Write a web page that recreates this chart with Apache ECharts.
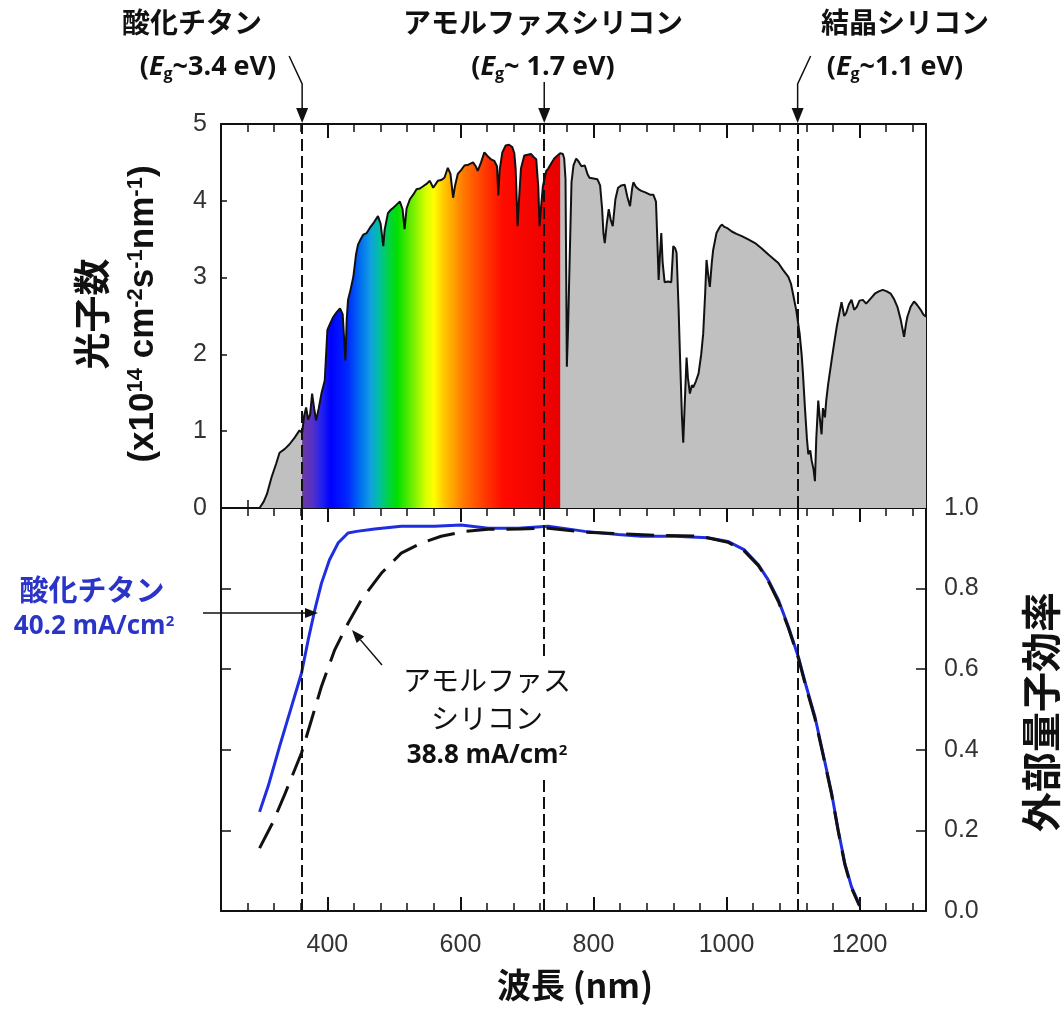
<!DOCTYPE html>
<html>
<head>
<meta charset="utf-8">
<script src="https://cdn.jsdelivr.net/npm/echarts@6/dist/echarts.min.js"></script>
<style>
  html, body { margin: 0; padding: 0; background: #fff; }
  #main { width: 1064px; height: 1027px; }
</style>
</head>
<body>
<div id="main"></div>
<script>
// 太陽光スペクトル: 波長 (nm) と 光子数 (x10^14 cm^-2 s^-1 nm^-1)
const specNm = [298, 304, 309, 316, 323, 328, 336, 343, 351, 358,
  362, 365, 368, 371, 374, 377, 380, 383, 387, 391,
  396, 400, 404, 409, 414, 419, 423, 427, 429, 431,
  435, 439, 443, 446, 450, 454, 459, 464, 470, 476,
  480, 484, 486, 491, 495, 499, 504, 509, 513, 516,
  519, 524, 529, 534, 539, 544, 549, 554, 559, 563,
  566, 571, 576, 581, 585, 589, 592, 596, 601, 606,
  612, 619, 623, 626, 631, 636, 641, 646, 651, 655,
  657, 659, 663, 668, 673, 678, 681, 683, 686, 688,
  691, 696, 701, 706, 710, 714, 716, 717, 719, 721,
  724, 729, 732, 736, 741, 746, 750, 754, 756, 758,
  760, 762, 764, 767, 770, 774, 777, 782, 787, 791,
  794, 800, 806, 810, 813, 815, 817, 820, 823, 826,
  829, 833, 837, 842, 847, 851, 855, 858, 860, 864,
  868, 872, 878, 885, 890, 894, 896, 898, 900, 902,
  904, 907, 912, 917, 920, 923, 925, 928, 930, 933,
  935, 937, 940, 942, 945, 948, 950, 954, 958, 962,
  965, 968, 970, 973, 975, 978, 980, 985, 990, 993,
  997, 1002, 1008, 1015, 1023, 1032, 1043, 1053, 1063, 1070,
  1078, 1085, 1093, 1097, 1100, 1105, 1110, 1113, 1115, 1118,
  1121, 1123, 1126, 1128, 1131, 1133, 1135, 1138, 1140, 1143,
  1145, 1148, 1150, 1153, 1158, 1162, 1166, 1170, 1173, 1177,
  1180, 1184, 1188, 1192, 1196, 1200, 1205, 1210, 1215, 1219,
  1223, 1229, 1235, 1241, 1247, 1252, 1257, 1262, 1267, 1270,
  1272, 1277, 1282, 1287, 1292, 1296, 1300]
const specVal = [0.00, 0.08, 0.18, 0.40, 0.58, 0.72, 0.77, 0.83, 0.92, 1.01,
  0.98, 1.20, 1.31, 1.15, 1.22, 1.49, 1.30, 1.14, 1.30, 1.49,
  1.66, 2.32, 2.40, 2.49, 2.55, 2.60, 2.52, 1.92, 2.45, 2.71,
  2.85, 3.01, 3.30, 3.43, 3.50, 3.56, 3.58, 3.65, 3.72, 3.80,
  3.70, 3.41, 3.62, 3.84, 3.88, 3.91, 3.95, 3.99, 3.89, 3.63,
  3.90, 4.02, 4.08, 4.15, 4.16, 4.19, 4.22, 4.26, 4.17, 4.22,
  4.26, 4.27, 4.30, 4.43, 4.35, 4.04, 4.20, 4.35, 4.40, 4.46,
  4.47, 4.50, 4.45, 4.39, 4.50, 4.63, 4.58, 4.54, 4.52, 4.45,
  4.07, 4.40, 4.63, 4.72, 4.73, 4.70, 4.62, 4.42, 3.67, 4.00,
  4.42, 4.59, 4.60, 4.61, 4.57, 4.54, 4.30, 4.19, 3.67, 3.90,
  4.19, 4.39, 4.42, 4.48, 4.55, 4.59, 4.62, 4.61, 4.55, 4.28,
  1.84, 2.40, 3.15, 4.24, 4.46, 4.55, 4.52, 4.45, 4.46, 4.35,
  4.30, 4.29, 4.28, 4.20, 3.90, 3.58, 3.45, 3.70, 3.89, 3.75,
  3.67, 4.02, 4.17, 4.20, 4.21, 4.05, 3.93, 4.15, 4.24, 4.18,
  4.15, 4.13, 4.11, 4.08, 4.08, 3.99, 3.50, 2.97, 3.30, 3.58,
  3.20, 2.94, 2.95, 2.94, 3.41, 3.38, 3.32, 2.60, 2.01, 1.20,
  0.85, 1.30, 1.96, 1.70, 1.49, 1.60, 1.57, 1.65, 1.75, 2.00,
  2.27, 2.80, 3.23, 3.00, 2.88, 3.20, 3.36, 3.58, 3.66, 3.69,
  3.66, 3.64, 3.60, 3.57, 3.54, 3.50, 3.45, 3.38, 3.30, 3.25,
  3.19, 3.10, 3.01, 2.92, 2.79, 2.57, 2.27, 2.00, 1.75, 1.30,
  0.90, 0.70, 0.75, 0.62, 0.50, 0.35, 0.90, 1.40, 1.20, 0.96,
  1.30, 1.18, 1.40, 1.62, 1.92, 2.15, 2.37, 2.55, 2.68, 2.50,
  2.54, 2.65, 2.71, 2.58, 2.62, 2.70, 2.71, 2.66, 2.71, 2.75,
  2.79, 2.82, 2.84, 2.82, 2.79, 2.72, 2.62, 2.45, 2.23, 2.40,
  2.49, 2.62, 2.69, 2.64, 2.58, 2.52, 2.49]

// 外部量子効率: 酸化チタン (青線)
const eqeTiNm = [298, 311, 328, 346, 361, 371, 381, 391, 403, 416, 431, 444, 471, 511, 561, 601, 642, 687, 732, 787,
  837, 872, 922, 972, 1002, 1027, 1048, 1063, 1078, 1093, 1108, 1120, 1133, 1145, 1158, 1168, 1178, 1188, 1200]
const eqeTiVal = [0.246, 0.31, 0.408, 0.507, 0.59, 0.672, 0.747, 0.813, 0.871, 0.913, 0.938, 0.942, 0.948, 0.955, 0.955, 0.958, 0.950, 0.950, 0.955, 0.942,
  0.934, 0.930, 0.930, 0.926, 0.917, 0.896, 0.859, 0.821, 0.772, 0.706, 0.631, 0.557, 0.482, 0.392, 0.293, 0.201, 0.118, 0.060, 0.015]
// 外部量子効率: アモルファスシリコン (破線)
const eqeSiNm = [298, 318, 336, 361, 376, 391, 411, 431, 451, 481, 511, 541, 571, 607, 642, 690, 732, 787, 837, 900,
  960, 1002, 1027, 1048, 1063, 1078, 1093, 1108, 1120, 1133, 1145, 1158, 1168, 1178, 1188, 1200]
const eqeSiVal = [0.156, 0.22, 0.29, 0.392, 0.474, 0.557, 0.648, 0.714, 0.772, 0.838, 0.888, 0.913, 0.930, 0.942, 0.947, 0.948, 0.950, 0.940, 0.936, 0.932,
  0.930, 0.915, 0.893, 0.857, 0.818, 0.768, 0.703, 0.628, 0.553, 0.478, 0.389, 0.290, 0.198, 0.115, 0.057, 0.013]

// バンドギャップ波長 (破線)
const bandgapNm = [362, 726, 1107]
const xMajorTicks = [400, 600, 800, 1000, 1200]
// 可視光の色 (波長ごと)
const rainbowNm = [362, 378, 392, 405, 430, 450, 465, 478, 490, 505, 530, 548, 560, 575, 590, 605, 625, 645, 665, 750]
const rainbowColor = ['#6a3aa0', '#5530c8', '#2020f0', '#0000ff', '#0028ff', '#0070f0', '#10a0e0', '#00c0a0', '#00d050', '#00e000',
  '#7af000', '#d8ff00', '#ffff00', '#ffc800', '#ffa000', '#ff7800', '#ff5000', '#ff2a00', '#ff0a00', '#e80000']

const numFont = '"Liberation Sans", Arial, sans-serif'
const latinFont = '"Open Sans", "Noto Sans", sans-serif'
const jpFont = '"Noto Sans CJK JP", sans-serif'
const ink = '#111'

const chart = echarts.init(document.getElementById('main'))

const specData = specNm.map((x, i) => [x, specVal[i]])
const colorData = specData.filter(d => d[0] >= 362 && d[0] <= 750)
const lo = colorData[0][0]
const hi = colorData[colorData.length - 1][0]
const rainbow = new echarts.graphic.LinearGradient(0, 0, 1, 0,
  rainbowNm.map((nm, i) => ({ offset: (nm - lo) / (hi - lo), color: rainbowColor[i] })))

// x軸 (目盛りの短いもの / 長いもの)
function xAxisOf(grid, pos, major, labels) {
  return {
    type: 'value', gridIndex: grid, position: pos, min: 240, max: 1300, interval: 40,
    axisLine: { show: !major, onZero: false, lineStyle: { color: ink, width: 2 } },
    axisTick: major
      ? { inside: true, length: 14, customValues: xMajorTicks, lineStyle: { color: ink, width: 2 } }
      : { inside: true, length: 8, lineStyle: { color: ink, width: 1.5 } },
    axisLabel: labels
      ? { show: true, color: '#333', fontSize: 25, fontFamily: numFont, margin: 22,
          formatter: v => (v % 200 === 0 ? String(v) : '') }
      : { show: false },
    splitLine: { show: false }
  }
}

const vline = {
  silent: true, symbol: ['none', 'none'], label: { show: false },
  lineStyle: { color: ink, type: [12, 5], width: 2 },
  emphasis: { disabled: true },
  data: bandgapNm.map(v => ({ xAxis: v }))
}

const option = {
  backgroundColor: '#fff',
  animation: false,
  grid: [
    { left: 221, top: 124, width: 705, height: 384 },
    { left: 221, top: 508, width: 705, height: 403 }
  ],
  xAxis: [
    xAxisOf(0, 'top', false, false), xAxisOf(0, 'top', true, false),
    xAxisOf(0, 'bottom', false, false), xAxisOf(0, 'bottom', true, false),
    xAxisOf(1, 'top', false, false), xAxisOf(1, 'top', true, false),
    xAxisOf(1, 'bottom', false, true), xAxisOf(1, 'bottom', true, false)
  ],
  yAxis: [
    { type: 'value', gridIndex: 0, position: 'left', min: 0, max: 5, interval: 1,
      axisLine: { show: true, lineStyle: { color: ink, width: 2 } },
      axisTick: { inside: true, length: 6, lineStyle: { color: ink, width: 1.5 } },
      axisLabel: { color: '#333', fontSize: 25, fontFamily: numFont, margin: 14 },
      splitLine: { show: false } },
    { type: 'value', gridIndex: 0, position: 'right', min: 0, max: 5, interval: 1,
      axisLine: { show: true, lineStyle: { color: ink, width: 2 } },
      axisTick: { show: false }, axisLabel: { show: false }, splitLine: { show: false } },
    { type: 'value', gridIndex: 1, position: 'left', min: 0, max: 1, interval: 0.2,
      axisLine: { show: true, lineStyle: { color: ink, width: 2 } },
      axisTick: { inside: true, length: 10, lineStyle: { color: ink, width: 1.5 } },
      axisLabel: { show: false }, splitLine: { show: false } },
    { type: 'value', gridIndex: 1, position: 'right', min: 0, max: 1, interval: 0.2,
      axisLine: { show: true, lineStyle: { color: ink, width: 2 } },
      axisTick: { inside: true, length: 10, lineStyle: { color: ink, width: 1.5 } },
      axisLabel: { color: '#333', fontSize: 25, fontFamily: numFont, margin: 18, formatter: v => v.toFixed(1) },
      splitLine: { show: false } }
  ],
  series: [
    { type: 'line', xAxisIndex: 2, yAxisIndex: 0, data: specData, symbol: 'none', silent: true, z: 1,
      lineStyle: { opacity: 0 }, areaStyle: { color: '#c0c0c0', opacity: 1 } },
    { type: 'line', xAxisIndex: 2, yAxisIndex: 0, data: colorData, symbol: 'none', silent: true, z: 2,
      lineStyle: { opacity: 0 }, areaStyle: { color: rainbow, opacity: 1 } },
    { type: 'line', xAxisIndex: 2, yAxisIndex: 0, data: specData, symbol: 'none', silent: true, z: 3,
      lineStyle: { color: ink, width: 2 }, markLine: vline },
    { type: 'line', xAxisIndex: 6, yAxisIndex: 3, data: eqeTiNm.map((x, i) => [x, eqeTiVal[i]]),
      symbol: 'none', silent: true, z: 3, lineStyle: { color: '#1e2ee0', width: 3 } },
    { type: 'line', xAxisIndex: 6, yAxisIndex: 3, data: eqeSiNm.map((x, i) => [x, eqeSiVal[i]]),
      symbol: 'none', silent: true, z: 4, lineStyle: { color: ink, width: 3, type: [28, 12] }, markLine: vline }
  ]
}

chart.setOption(option)

// 矢印 (線 + 三角形)
function arrow(points, color, width, headLen, headW) {
  const n = points.length
  const [x1, y1] = points[n - 2]
  const [x2, y2] = points[n - 1]
  const a = Math.atan2(y2 - y1, x2 - x1)
  const bx = x2 - headLen * Math.cos(a)
  const by = y2 - headLen * Math.sin(a)
  const p1 = [bx + headW / 2 * Math.sin(a), by - headW / 2 * Math.cos(a)]
  const p2 = [bx - headW / 2 * Math.sin(a), by + headW / 2 * Math.cos(a)]
  return [
    { type: 'polyline', z: 100, shape: { points: points.slice(0, n - 1).concat([[bx, by]]) },
      style: { stroke: color, lineWidth: width, fill: 'none' } },
    { type: 'polygon', z: 100, shape: { points: [[x2, y2], p1, p2] }, style: { fill: color } }
  ]
}

function label(x, y, text, opts) {
  return { type: 'text', x: x, y: y, z: 100, rotation: opts.rotation || 0,
    style: Object.assign({ text: text, align: 'center', verticalAlign: 'middle', fill: ink }, opts.style) }
}

const egRich = {
  i: { fontStyle: 'italic', fontWeight: 'bold', fontSize: 27, fontFamily: latinFont },
  s: { fontSize: 16, fontWeight: 'bold', fontFamily: latinFont, verticalAlign: 'bottom', padding: [14, 0, 0, 0] }
}
const egStyle = { fontSize: 27, fontWeight: 'bold', fontFamily: latinFont, rich: egRich }
const jpTop = { fontSize: 28, fontWeight: 'bold', fontFamily: jpFont }
const supRich = { u: { fontSize: 22, fontWeight: 'bold', fontFamily: numFont, verticalAlign: 'top', padding: [0, 0, 14, 0] } }

const px = bandgapNm.map(v => chart.convertToPixel({ xAxisIndex: 0 }, v))
const topY = 123

let g = []
g = g.concat(arrow([[px[0] - 13, 56], [px[0], 84], [px[0], topY]], ink, 1.5, 15, 12))
g = g.concat(arrow([[px[1], 82], [px[1], topY]], ink, 1.5, 15, 12))
g = g.concat(arrow([[px[2] + 13, 56], [px[2], 84], [px[2], topY]], ink, 1.5, 15, 12))
g.push(label(192, 22, '酸化チタン', { style: jpTop }))
g.push(label(543, 22, 'アモルファスシリコン', { style: jpTop }))
g.push(label(905, 22, '結晶シリコン', { style: jpTop }))
g.push(label(208, 67, '({i|E}{s|g}~3.4 eV)', { style: egStyle }))
g.push(label(543, 67, '({i|E}{s|g}~ 1.7 eV)', { style: egStyle }))
g.push(label(895, 67, '({i|E}{s|g}~1.1 eV)', { style: egStyle }))

// 軸タイトル
g.push(label(92, 314, '光子数', { rotation: Math.PI / 2,
  style: { fontSize: 37, fontWeight: 'bold', fontFamily: jpFont } }))
g.push(label(143, 314, '(x10{u|14} cm{u|-2}s{u|-1}nm{u|-1})', { rotation: Math.PI / 2,
  style: { fontSize: 35, fontWeight: 'bold', fontFamily: numFont, rich: supRich } }))
g.push(label(1041, 712, '外部量子効率', { rotation: Math.PI / 2,
  style: { fontSize: 40, fontWeight: 'bold', fontFamily: jpFont } }))
g.push(label(575, 985, '波長 (nm)', { style: { fontSize: 34, fontWeight: 'bold', fontFamily: jpFont } }))

// 注記
const blue = '#2a35c8'
g.push(label(92, 590, '酸化チタン', { style: { fontSize: 29, fontWeight: 'bold', fontFamily: jpFont, fill: blue } }))
g.push(label(94, 627, '40.2 mA/cm{u|2}', { style: { fontSize: 26, fontWeight: 'bold', fontFamily: latinFont, fill: blue,
  rich: { u: { fontSize: 15, fontWeight: 'bold', fontFamily: latinFont, fill: blue, verticalAlign: 'top', padding: [0, 0, 8, 0] } } } }))
g = g.concat(arrow([[203, 613], [318, 613]], ink, 1.5, 13, 10))

g.push(label(487, 718, '{k|アモルファス}\n{k|シリコン}\n{n|38.8 mA/cm}{u|2}', { style: {
  backgroundColor: '#fff', padding: [4, 6], fill: ink,
  rich: {
    k: { fontSize: 28, fontFamily: jpFont, lineHeight: 38 },
    n: { fontSize: 26, fontWeight: 'bold', fontFamily: latinFont, lineHeight: 38 },
    u: { fontSize: 15, fontWeight: 'bold', fontFamily: latinFont, verticalAlign: 'top', padding: [6, 0, 0, 0], lineHeight: 38 }
  } } }))
g = g.concat(arrow([[382, 665], [352, 630]], ink, 1.5, 13, 10))

chart.setOption({ graphic: g })
</script>
</body>
</html>
